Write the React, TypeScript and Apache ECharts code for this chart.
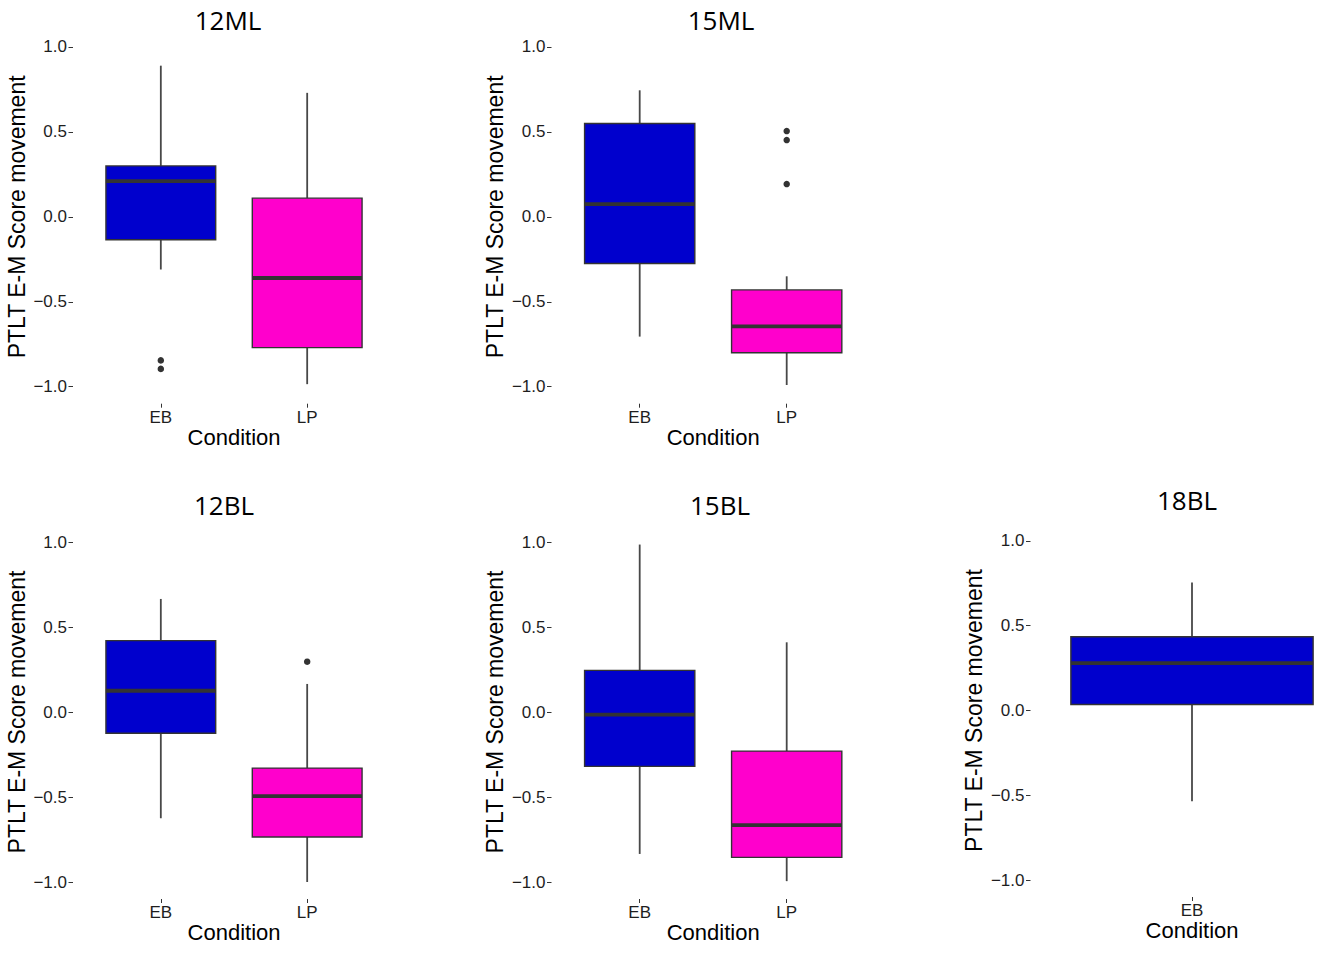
import React, { useEffect, useRef } from "react";
import * as echarts from "echarts";

// ---------- data ----------
const categoriesTwo = ["EB", "LP"];
const categoriesOne = ["EB"];
const panelTitles = ["12ML", "15ML", "12BL", "15BL", "18BL"];
const yTicks = [-1, -0.5, 0, 0.5, 1];

// [lower whisker, Q1, median, Q3, upper whisker]
const eb12ML = [-0.31, -0.135, 0.21, 0.3, 0.89];
const lp12ML = [-0.985, -0.77, -0.36, 0.11, 0.73];
const eb15ML = [-0.705, -0.275, 0.075, 0.55, 0.745];
const lp15ML = [-0.99, -0.8, -0.645, -0.43, -0.35];
const eb12BL = [-0.625, -0.125, 0.125, 0.42, 0.665];
const lp12BL = [-1.0, -0.735, -0.495, -0.33, 0.165];
const eb15BL = [-0.835, -0.32, -0.015, 0.245, 0.985];
const lp15BL = [-0.995, -0.855, -0.665, -0.23, 0.41];
const eb18BL = [-0.535, 0.035, 0.28, 0.435, 0.755];

// outliers
const out12ML_EB = [-0.845, -0.895];
const out15ML_LP = [0.505, 0.452, 0.193];
const out12BL_LP = [0.296];

// ---------- styles ----------
const boxColors = ["#0000CD", "#FF00CC"];
const ink = "#333333";
const whiskerInk = "#484848";
const axisFont = "Liberation Sans, Arial, sans-serif";
const titleFont = "Open Sans, sans-serif";

const panels = [
  { title: panelTitles[0], cats: categoriesTwo, boxes: [eb12ML, lp12ML], outliers: [out12ML_EB, []], grid: { left: 73, top: 30, width: 322, height: 373.7 }, titlePos: [228, 20], boxW: 0.75 },
  { title: panelTitles[1], cats: categoriesTwo, boxes: [eb15ML, lp15ML], outliers: [[], out15ML_LP], grid: { left: 551.5, top: 30, width: 323.4, height: 373.7 }, titlePos: [721, 20], boxW: 0.75 },
  { title: panelTitles[2], cats: categoriesTwo, boxes: [eb12BL, lp12BL], outliers: [[], out12BL_LP], grid: { left: 73, top: 525, width: 322, height: 374 }, titlePos: [224, 505], boxW: 0.75 },
  { title: panelTitles[3], cats: categoriesTwo, boxes: [eb15BL, lp15BL], outliers: [[], []], grid: { left: 551.5, top: 525, width: 323.4, height: 374 }, titlePos: [720, 505], boxW: 0.75 },
  { title: panelTitles[4], cats: categoriesOne, boxes: [eb18BL], outliers: [[]], grid: { left: 1030.5, top: 524, width: 323, height: 373 }, titlePos: [1187, 500], boxW: 0.9 },
];

const fmtY = (v: number) => {
  const s = Math.abs(v).toFixed(1);
  return v < 0 ? "\u2212" + s : s;
};

function buildOption() {
  const grid: any[] = [];
  const xAxis: any[] = [];
  const yAxis: any[] = [];
  const series: any[] = [];
  const graphic: any[] = [];

  panels.forEach((p, i) => {
    grid.push({ ...p.grid, containLabel: false });
    const catVals = p.cats.map((_, k) => k + 1);
    xAxis.push({
      type: "value",
      gridIndex: i,
      position: "bottom",
      min: 0.4,
      max: p.cats.length + 0.6,
      axisLine: { show: false, onZero: false },
      splitLine: { show: false },
      axisTick: { show: true, customValues: catVals, length: 4, lineStyle: { color: ink, width: 1 } },
      axisLabel: {
        customValues: catVals,
        formatter: (v: number) => p.cats[Math.round(v) - 1] ?? "",
        fontSize: 17,
        color: "#1e1e1e",
        fontFamily: axisFont,
        margin: 5,
      },
      name: "Condition",
      nameLocation: "middle",
      nameGap: 22,
      nameTextStyle: { fontSize: 22, color: "#000", fontFamily: axisFont },
    });
    yAxis.push({
      type: "value",
      gridIndex: i,
      position: "left",
      min: -1.1,
      max: 1.1,
      axisLine: { show: false, onZero: false },
      splitLine: { show: false },
      axisTick: { show: true, customValues: yTicks, length: 4.5, lineStyle: { color: ink, width: 1 } },
      axisLabel: {
        customValues: yTicks,
        formatter: fmtY,
        fontSize: 17,
        color: "#1e1e1e",
        fontFamily: axisFont,
        margin: 6,
      },
      name: "PTLT E-M Score movement",
      nameLocation: "middle",
      nameGap: 45,
      nameTextStyle: { fontSize: 23, color: "#000", fontFamily: axisFont },
    });

    const bw = p.boxW;
    series.push({
      type: "custom",
      xAxisIndex: i,
      yAxisIndex: i,
      encode: { x: 0, y: [1, 2, 3, 4, 5] },
      data: p.boxes.map((b, k) => [k + 1, ...b]),
      renderItem: (params: any, api: any) => {
        const x = api.value(0);
        const lo = api.coord([x, api.value(1)]);
        const q1 = api.coord([x, api.value(2)]);
        const med = api.coord([x, api.value(3)]);
        const q3 = api.coord([x, api.value(4)]);
        const hi = api.coord([x, api.value(5)]);
        const half = api.size([bw, 0])[0] / 2;
        const color = boxColors[(Math.round(x) - 1) % boxColors.length];
        return {
          type: "group",
          children: [
            { type: "line", shape: { x1: hi[0], y1: hi[1], x2: q3[0], y2: q3[1] }, style: { stroke: whiskerInk, lineWidth: 1.8 } },
            { type: "line", shape: { x1: q1[0], y1: q1[1], x2: lo[0], y2: lo[1] }, style: { stroke: whiskerInk, lineWidth: 1.8 } },
            { type: "rect", shape: { x: q3[0] - half, y: q3[1], width: half * 2, height: q1[1] - q3[1] }, style: { fill: color, stroke: ink, lineWidth: 1.4 } },
            { type: "line", shape: { x1: med[0] - half, y1: med[1], x2: med[0] + half, y2: med[1] }, style: { stroke: ink, lineWidth: 3.8 } },
          ],
        };
      },
    });

    const pts: number[][] = [];
    p.outliers.forEach((arr, k) => arr.forEach((v) => pts.push([k + 1, v])));
    if (pts.length) {
      series.push({
        type: "scatter",
        xAxisIndex: i,
        yAxisIndex: i,
        data: pts,
        symbol: "circle",
        symbolSize: 6.5,
        itemStyle: { color: ink, opacity: 1 },
        z: 5,
      });
    }

    graphic.push({
      type: "text",
      x: p.titlePos[0],
      y: p.titlePos[1],
      style: {
        text: p.title,
        fontSize: 26,
        fontFamily: titleFont,
        fill: "#000",
        align: "center",
        verticalAlign: "middle",
        textAlign: "center",
        textVerticalAlign: "middle",
      },
    });
  });

  return {
    animation: false,
    backgroundColor: "#ffffff",
    grid,
    xAxis,
    yAxis,
    series,
    graphic,
  };
}

export default function App() {
  const ref = useRef<HTMLDivElement>(null);
  useEffect(() => {
    if (!ref.current) return;
    const chart = echarts.init(ref.current, undefined, { renderer: "svg" });
    chart.setOption(buildOption() as any);
    return () => chart.dispose();
  }, []);
  return (
    <div
      style={{ position: "absolute", left: 0, top: 0, width: 1325, height: 956, overflow: "hidden", background: "#fff" }}
    >
      <div ref={ref} style={{ width: 1400, height: 956 }} />
    </div>
  );
}
